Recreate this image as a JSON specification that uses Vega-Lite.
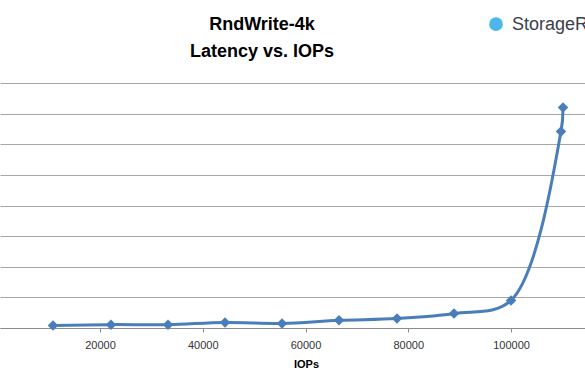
{
  "$schema": "https://vega.github.io/schema/vega-lite/v6.json",
  "width": 585,
  "height": 245,
  "autosize": {"type": "none"},
  "padding": {"left": 0, "top": 83, "right": 0, "bottom": 62},
  "background": "white",
  "config": {
    "view": {"stroke": null},
    "axis": {"labelFont": "Liberation Sans", "titleFont": "Liberation Sans"}
  },
  "resolve": {"axis": {"x": "independent", "y": "independent"}},
  "layer": [
    {
      "data": {
        "values": [
          {"iops": 10850, "latency": 0.08},
          {"iops": 22140, "latency": 0.11},
          {"iops": 33230, "latency": 0.11},
          {"iops": 44330, "latency": 0.18},
          {"iops": 55420, "latency": 0.15},
          {"iops": 66510, "latency": 0.25},
          {"iops": 77800, "latency": 0.31},
          {"iops": 88900, "latency": 0.47},
          {"iops": 99990, "latency": 0.9},
          {"iops": 109720, "latency": 6.42},
          {"iops": 110110, "latency": 7.2}
        ]
      },
      "encoding": {
        "x": {
          "field": "iops",
          "type": "quantitative",
          "scale": {"domain": [535, 114392], "nice": false, "zero": false},
          "axis": {
            "values": [20000, 40000, 60000, 80000, 100000],
            "title": "IOPs",
            "titleFontSize": 11,
            "titleFontWeight": "bold",
            "titleColor": "#000000",
            "titleX": 306,
            "titlePadding": 8,
            "labelFontSize": 11,
            "labelColor": "#333333",
            "labelFlush": false,
            "labelPadding": 7,
            "format": "d",
            "grid": false,
            "domainColor": "#8c8c8c",
            "tickColor": "#8c8c8c",
            "tickSize": 4
          }
        },
        "y": {
          "field": "latency",
          "type": "quantitative",
          "scale": {"domain": [0, 8], "nice": false},
          "axis": {
            "values": [0, 1, 2, 3, 4, 5, 6, 7, 8],
            "title": null,
            "labels": false,
            "ticks": false,
            "domain": false,
            "grid": true,
            "gridColor": "#a6a6a6",
            "gridWidth": 1,
            "gridOpacity": 1
          }
        }
      },
      "layer": [
        {"mark": {"type": "line", "interpolate": "catmull-rom", "color": "#4a7ebb", "strokeWidth": 3}},
        {"mark": {"type": "point", "shape": "diamond", "filled": true, "size": 110, "color": "#4a7ebb", "opacity": 1}}
      ]
    },
    {
      "data": {"values": [{"brand": "StorageR", "heading": "RndWrite-4k\nLatency vs. IOPs"}]},
      "layer": [
        {
          "mark": {"type": "point", "shape": "circle", "filled": true, "size": 190, "color": "#4db6ea", "opacity": 1},
          "encoding": {
            "x": {"datum": 97070, "type": "quantitative", "axis": null},
            "y": {"datum": 9.92, "type": "quantitative", "axis": null}
          }
        },
        {
          "mark": {"type": "text", "align": "left", "baseline": "alphabetic", "font": "Liberation Sans", "fontSize": 18, "color": "#3a3f4a"},
          "encoding": {
            "x": {"datum": 100183, "type": "quantitative", "axis": null},
            "y": {"datum": 9.72, "type": "quantitative", "axis": null},
            "text": {"field": "brand"}
          }
        },
        {
          "mark": {"type": "text", "align": "center", "baseline": "alphabetic", "lineBreak": "\n", "lineHeight": 27, "font": "Liberation Sans", "fontSize": 18, "fontWeight": "bold", "color": "#000000"},
          "encoding": {
            "x": {"datum": 51528, "type": "quantitative", "axis": null},
            "y": {"datum": 9.72, "type": "quantitative", "axis": null},
            "text": {"field": "heading"}
          }
        }
      ]
    }
  ]
}
